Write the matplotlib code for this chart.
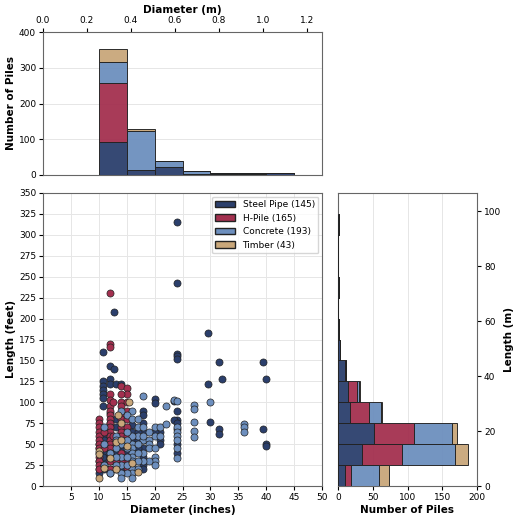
import numpy as np
import matplotlib.pyplot as plt
from matplotlib.patches import Patch

# pile types and colours
types = ['Steel Pipe', 'H-Pile', 'Concrete', 'Timber']
totals = [145, 165, 193, 43]
colors = ['#2b3f6c', '#a3304f', '#6d8fbe', '#c9a77a']

# scatter points (diameter in, length ft)
steel_d = [24, 24, 12.75, 29.5, 10.75, 24, 24, 24, 31.5, 39.5, 12, 12.75, 32, 40, 12, 10.75, 10.75, 10.75, 10.75, 10.75,
           12, 13, 14, 29.5, 10.75, 12, 20, 20, 23.5, 24, 24, 23.5, 24, 30, 31.5, 31.5, 39.5, 40, 40, 24, 24, 24,
           18, 18, 18, 18, 18, 18, 18, 18, 18, 16, 16, 16, 17, 17, 17, 21, 21, 21, 20, 14, 14, 14, 14, 13, 13, 13, 13,
           12, 12, 12, 12, 12, 12, 11, 11, 11, 11, 11, 10, 10, 10, 10, 10, 15, 15, 15, 15, 16, 13, 14, 12.75, 11, 10.75]
steel_l = [315, 242, 208, 183, 160, 158, 155, 152, 148, 148, 143, 140, 128, 128, 128, 125, 120, 115, 110, 105,
           122, 122, 122, 122, 96, 87, 104, 99, 102, 89, 79, 79, 75, 77, 68, 62, 68, 50, 48, 50, 40, 68,
           90, 85, 75, 65, 55, 45, 35, 25, 20, 73, 65, 55, 65, 55, 45, 65, 55, 50, 65, 75, 65, 55, 45, 80, 70, 50, 40,
           75, 60, 45, 35, 20, 15, 60, 50, 40, 30, 20, 50, 45, 30, 20, 15, 50, 40, 30, 20, 20, 20, 18, 30, 55, 35]
h_d = [12, 12, 12, 14, 15, 15, 14, 12, 12, 14, 15, 14, 15, 12, 12, 12, 12, 12, 12, 12, 12, 12, 12, 12, 12, 12, 12,
       10, 10, 10, 10, 10, 10, 10, 10, 10, 10, 10, 10, 10, 14, 14, 14, 14, 14, 14, 15, 15, 15, 15, 15, 15,
       14, 14, 13, 13, 11, 11, 12.5, 12.5, 12, 11]
h_l = [231, 170, 166, 120, 117, 110, 110, 110, 103, 100, 100, 95, 90, 95, 90, 85, 80, 75, 70, 65, 60, 55, 50, 45, 40, 35, 30,
       80, 75, 70, 65, 60, 55, 50, 45, 40, 35, 30, 25, 20, 85, 80, 70, 65, 60, 50, 80, 70, 60, 35, 30, 22,
       40, 30, 50, 30, 65, 45, 100, 60, 20, 25]
conc_d = [18, 23.5, 24, 22, 27, 27, 30, 16, 15, 16, 17, 17, 16, 16, 16, 16, 16, 16, 16, 16, 16, 16, 15, 15, 15, 15,
          14, 14, 14, 14, 14, 14, 13, 13, 13, 13, 12, 11, 11, 11, 18, 18, 18, 19, 19, 19, 19, 20, 20, 20, 20, 20, 20,
          21, 21, 22, 24, 24, 24, 24, 24, 24, 27, 27, 27, 36, 36, 36, 17, 17, 17, 19, 18, 13, 12, 15, 15, 17, 17, 18]
conc_l = [107, 103, 102, 96, 97, 92, 100, 90, 85, 80, 70, 60, 60, 50, 45, 40, 35, 30, 25, 20, 15, 10, 65, 55, 45, 15,
          90, 50, 35, 25, 15, 10, 60, 45, 35, 25, 15, 70, 50, 25, 70, 55, 40, 65, 55, 50, 45, 70, 60, 45, 35, 30, 25,
          70, 60, 74, 70, 65, 60, 55, 45, 34, 76, 66, 58, 74, 70, 65, 80, 50, 40, 30, 30, 55, 40, 25, 35, 30, 20, 60]
timb_d = [15.5, 13.5, 14, 15, 13, 17, 10, 10, 10, 11, 12, 13, 14, 16]
timb_l = [100, 85, 75, 48, 52, 17, 10, 42, 38, 22, 33, 20, 55, 28]

# top histogram: 5 inch bins from 10 to 45 in
dia_edges_in = [10, 15, 20, 25, 30, 35, 40, 45]
dia_counts = [
    [92, 15, 23, 4, 4, 2, 5],      # steel
    [165, 0, 0, 0, 0, 0, 0],       # h-pile
    [60, 107, 15, 6, 1, 4, 0],     # concrete
    [36, 7, 0, 0, 0, 0, 0],        # timber
]

# right histogram: 25 ft bins from 0 to 325 ft
len_edges_ft = list(range(0, 350, 25))
len_counts = [
    [10, 35, 52, 17, 15, 10, 3, 1, 0, 1, 0, 0, 1],   # steel
    [8, 57, 58, 27, 12, 2, 0, 0, 0, 1, 0, 0, 0],     # h-pile
    [41, 77, 54, 18, 3, 0, 0, 0, 0, 0, 0, 0, 0],     # concrete
    [15, 18, 7, 2, 1, 0, 0, 0, 0, 0, 0, 0, 0],       # timber
]

IN2M = 0.0254
FT2M = 0.3048
TS = 6.5   # tick font
LS = 7.5   # label font

plt.rcParams['font.family'] = 'DejaVu Sans'
fig = plt.figure(figsize=(5.2, 5.18), dpi=100)
ax = fig.add_axes([43/520, 1-486/518, 279/520, 293/518])
axt = fig.add_axes([43/520, 1-175/518, 279/520, 143/518])
axr = fig.add_axes([338/520, 1-486/518, 139/520, 293/518])

# scatter
pts = [(steel_d, steel_l), (h_d, h_l), (conc_d, conc_l), (timb_d, timb_l)]
for (xd, yl), c in zip(pts, colors):
    ax.scatter(xd, yl, s=26, color=c, edgecolor='#222222', linewidth=0.5, zorder=3)
ax.set_xlim(0, 50)
ax.set_ylim(0, 350)
ax.set_xticks(range(5, 51, 5))
ax.set_yticks(range(0, 351, 25))
ax.set_xlabel('Diameter (inches)', fontsize=LS, fontweight='bold', labelpad=2)
ax.set_ylabel('Length (feet)', fontsize=LS, fontweight='bold', labelpad=2)
ax.grid(True, color='#e6e6e6', linewidth=0.7)
ax.set_axisbelow(True)
handles = [Patch(facecolor=c, edgecolor='#222222', label=f'{t} ({n})') for t, c, n in zip(types, colors, totals)]
ax.legend(handles=handles, loc='upper right', fontsize=6.5, handlelength=2.2, borderaxespad=0.4)

# top histogram in metres
edges_m = np.array(dia_edges_in) * IN2M
widths = np.diff(edges_m)
bottom = np.zeros(len(widths))
for cnt, c in zip(dia_counts, colors):
    cnt = np.array(cnt)
    axt.bar(edges_m[:-1], cnt, width=widths, bottom=bottom, align='edge', color=c,
            edgecolor='#222222', linewidth=0.7, alpha=0.95, zorder=3)
    bottom += cnt
axt.set_xlim(0, 50 * IN2M)
axt.set_ylim(0, 400)
axt.xaxis.tick_top()
axt.xaxis.set_label_position('top')
axt.set_xlabel('Diameter (m)', fontsize=LS, fontweight='bold', labelpad=2)
axt.set_ylabel('Number of Piles', fontsize=LS, fontweight='bold', labelpad=2)
axt.set_yticks(range(0, 401, 100))
axt.grid(True, axis='y', color='#e6e6e6', linewidth=0.7)
axt.set_axisbelow(True)

# right histogram in metres
ledges_m = np.array(len_edges_ft) * FT2M
heights = np.diff(ledges_m)
left = np.zeros(len(heights))
for cnt, c in zip(len_counts, colors):
    cnt = np.array(cnt)
    axr.barh(ledges_m[:-1], cnt, height=heights, left=left, align='edge', color=c,
             edgecolor='#222222', linewidth=0.7, alpha=0.95, zorder=3)
    left += cnt
axr.set_ylim(0, 350 * FT2M)
axr.set_xlim(0, 200)
axr.yaxis.tick_right()
axr.yaxis.set_label_position('right')
axr.set_ylabel('Length (m)', fontsize=LS, fontweight='bold', labelpad=2)
axr.set_xlabel('Number of Piles', fontsize=LS, fontweight='bold', labelpad=2)
axr.set_xticks(range(0, 201, 50))
axr.grid(True, axis='x', color='#e6e6e6', linewidth=0.7)
axr.set_axisbelow(True)

for a in (ax, axt, axr):
    a.tick_params(labelsize=TS, length=3, pad=2)
    for s in a.spines.values():
        s.set_color('#666666')

fig.savefig('out.png', dpi=100)
